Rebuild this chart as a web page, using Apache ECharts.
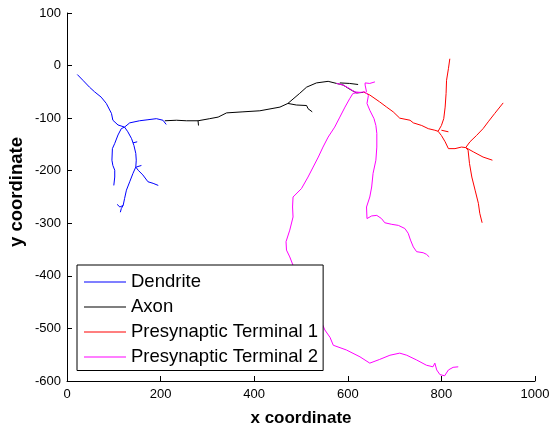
<!DOCTYPE html>
<html>
<head>
<meta charset="utf-8">
<script src="https://cdn.jsdelivr.net/npm/echarts@6/dist/echarts.min.js"></script>
<style>
  html, body { margin: 0; padding: 0; background: #fff; }
  #chart { width: 551px; height: 427px; }
</style>
</head>
<body>
<div id="chart"></div>
<script>
// trace names (legend order)
const names = ['Dendrite', 'Axon', 'Presynaptic Terminal 1', 'Presynaptic Terminal 2'];
const colors = ['#0000ff', '#000000', '#ff0000', '#ff00ff'];

// axis ticks
const xTicks = [0, 200, 400, 600, 800, 1000];
const yTicks = [100, 0, -100, -200, -300, -400, -500, -600];

// Dendrite branches, [x, y]
const dendrite1 = [[22, -17], [34, -28], [48, -41], [59, -50], [73, -60], [84, -72], [95, -91], [98, -104], [109, -113], [123, -117], [134, -109], [155, -105], [173, -103], [191, -101], [205, -104], [212, -112]];
const dendrite2 = [[123, -117], [116, -120], [109, -132], [102, -148], [97, -158], [96, -180], [98, -190], [102, -199], [102, -212], [100, -228]];
const dendrite3 = [[123, -117], [130, -126], [138, -139], [143, -152], [147, -167], [148, -180], [147, -193], [141, -205], [134, -221], [127, -237], [123, -253], [120, -266], [113, -269], [107, -264]];
const dendrite4 = [[120, -266], [116, -272], [114, -279]];
const dendrite5 = [[147, -193], [152, -199], [162, -208], [173, -221], [184, -224], [195, -228]];
const dendrite6 = [[148, -193], [159, -190]];
const dendrite7 = [[141, -147], [150, -145]];

// Axon branches
const axon1 = [[209, -105], [234, -104], [255, -105], [280, -105], [305, -101], [323, -98], [341, -90], [376, -88], [412, -86], [455, -79], [472, -72], [497, -53], [512, -41], [533, -33], [558, -30], [576, -34], [590, -37], [608, -47], [619, -52], [633, -51]];
const axon2 = [[472, -72], [490, -75], [512, -76], [515, -82], [524, -88]];
const axon3 = [[583, -33], [604, -34], [622, -36]];
const axon4 = [[280, -105], [281, -114]];

// Presynaptic terminal 1 branches
const term1a = [[633, -50], [647, -56], [668, -69], [683, -79], [697, -88], [711, -100], [733, -104], [740, -109], [758, -114], [772, -120], [786, -123], [793, -125]];
const term1b = [[793, -125], [800, -114], [805, -101], [808, -79], [810, -53], [811, -28], [815, -6], [818, 13]];
const term1c = [[800, -123], [815, -126]];
const term1d = [[793, -125], [800, -133], [808, -145], [815, -158], [829, -158], [843, -155], [852, -156]];
const term1e = [[852, -156], [861, -145], [875, -133], [889, -120], [900, -107], [914, -91], [932, -71]];
const term1f = [[852, -156], [868, -164], [889, -174], [909, -180]];
const term1g = [[852, -156], [857, -161], [860, -186], [865, -212], [872, -237], [879, -262], [882, -281], [887, -299]];

// Presynaptic terminal 2 branches
const term2a = [[576, -34], [590, -37], [604, -44], [615, -50], [626, -51], [637, -50], [644, -57], [641, -72], [647, -85], [656, -101], [660, -114], [662, -129], [662, -155], [660, -180], [654, -205], [651, -231], [647, -250], [640, -269], [641, -291], [651, -286], [662, -285], [672, -291], [679, -299], [694, -302], [708, -304], [722, -310], [729, -319], [734, -332], [740, -345], [747, -354], [761, -356], [768, -359], [774, -364]];
const term2b = [[640, -50], [637, -37], [637, -33], [647, -34], [658, -31]];
const term2c = [[626, -51], [611, -53], [604, -63], [594, -79], [583, -98], [572, -117], [558, -136], [547, -155], [537, -174], [526, -193], [515, -212], [501, -234], [483, -250], [482, -269], [483, -288], [476, -313], [468, -335], [469, -351], [476, -364], [483, -380], [497, -408], [523, -446], [540, -480], [551, -503], [562, -517], [569, -532], [597, -541], [626, -554], [647, -566], [668, -559], [690, -551], [711, -547], [726, -551], [747, -560], [768, -570], [782, -573], [786, -566], [790, -579], [797, -588], [807, -590], [815, -579], [825, -574], [836, -573]];

const traces = [
  [dendrite1, dendrite2, dendrite3, dendrite4, dendrite5, dendrite6, dendrite7],
  [axon1, axon2, axon3, axon4],
  [term1a, term1b, term1c, term1d, term1e, term1f, term1g],
  [term2a, term2b, term2c]
];

const font = '"Liberation Sans", Arial, Helvetica, sans-serif';

const series = [];
traces.forEach(function (branches, i) {
  branches.forEach(function (branch) {
    series.push({
      name: names[i],
      type: 'line',
      data: branch,
      symbol: 'none',
      showSymbol: false,
      silent: true,
      lineStyle: { color: colors[i], width: 1 },
      itemStyle: { color: colors[i] }
    });
  });
});

const chart = echarts.init(document.getElementById('chart'), null, { renderer: 'canvas' });
const option = {
  backgroundColor: '#fff',
  animation: false,
  // fixed plot box, don't let v6 shrink it to fit the axis names
  grid: { left: 67, right: 16, top: 13, bottom: 46, containLabel: false, outerBoundsMode: 'none' },
  legend: {
    data: names,
    orient: 'vertical',
    left: 77,
    top: 265,
    backgroundColor: '#fff',
    borderColor: '#000',
    borderWidth: 1,
    borderRadius: 0,
    padding: [7.5, 5, 4, 7],
    // thin line sample instead of the default circle marker
    icon: 'path://M0,0L42,0L42,1.2L0,1.2Z',
    itemWidth: 42,
    itemHeight: 17,
    itemGap: 6,
    selectedMode: false,
    z: 10,
    textStyle: { fontSize: 18.5, color: '#000', fontFamily: font, lineHeight: 18.5 }
  },
  xAxis: {
    type: 'value',
    min: xTicks[0],
    max: xTicks[xTicks.length - 1],
    interval: 200,
    name: 'x coordinate',
    nameLocation: 'middle',
    nameGap: 29,
    nameTextStyle: { fontSize: 17, fontWeight: 'bold', color: '#000', fontFamily: font },
    axisLine: { onZero: false, lineStyle: { color: '#000', width: 1 } },
    axisTick: { inside: true, length: 5, lineStyle: { color: '#000' } },
    axisLabel: { fontSize: 13, color: '#000', margin: 7, fontFamily: font, formatter: function (v) { return String(v); } },
    splitLine: { show: false }
  },
  yAxis: {
    type: 'value',
    min: yTicks[yTicks.length - 1],
    max: yTicks[0],
    interval: 100,
    name: 'y coordinate',
    nameLocation: 'middle',
    nameGap: 41,
    nameMoveOverlap: false,
    nameTextStyle: { fontSize: 18.5, fontWeight: 'bold', color: '#000', fontFamily: font, padding: [0, 0, 0, 10] },
    axisLine: { show: true, onZero: false, lineStyle: { color: '#000', width: 1 } },
    axisTick: { show: true, inside: true, length: 5, lineStyle: { color: '#000' } },
    axisLabel: { fontSize: 13, color: '#000', margin: 6, fontFamily: font, formatter: function (v) { return String(v); } },
    splitLine: { show: false }
  },
  series: series
};
chart.setOption(option);
window.onresize = chart.resize;
</script>
</body>
</html>
